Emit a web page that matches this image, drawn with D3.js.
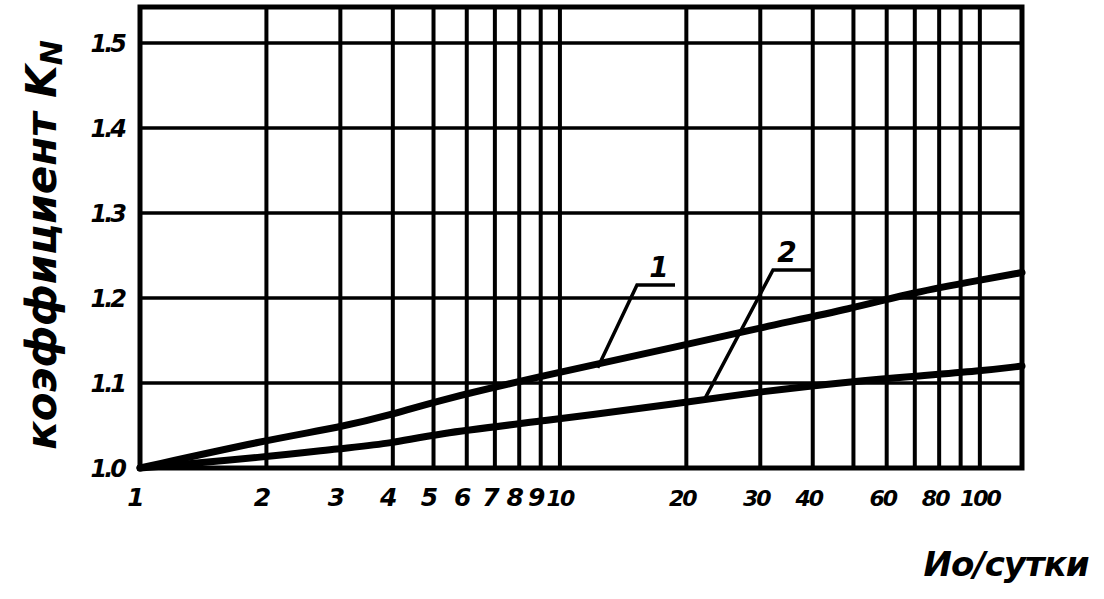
<!DOCTYPE html>
<html>
<head>
<meta charset="utf-8">
<script src="https://cdn.jsdelivr.net/npm/d3@7"></script>
<style>
  body { margin: 0; background: #fff; }
  text { font-family: "DejaVu Sans", sans-serif; font-style: italic; font-weight: bold; fill: #000; }
</style>
</head>
<body>
<svg id="chart" width="1104" height="599"></svg>
<script>
// grid values and labels
var xGrid = [2, 3, 4, 5, 6, 7, 8, 9, 10, 20, 30, 40, 50, 60, 70, 80, 90, 100];
var xLabels = [1, 2, 3, 4, 5, 6, 7, 8, 9, 10, 20, 30, 40, 60, 80, 100];
var yGrid = [1.1, 1.2, 1.3, 1.4, 1.5];
var yLabels = ["1.0", "1.1", "1.2", "1.3", "1.4", "1.5"];

// curves
var xs = [1, 2, 3, 4, 5, 9, 20, 30, 50, 70, 100, 126];
var curve1 = [1.0, 1.033, 1.048, 1.063, 1.078, 1.108, 1.145, 1.165, 1.188, 1.207, 1.221, 1.23];
var curve2 = [1.0, 1.013, 1.023, 1.029, 1.040, 1.055, 1.077, 1.09, 1.102, 1.108, 1.114, 1.12];

// curve labels: [number, x on curve, y on curve]
var marks = [["1", 12.3, 1.118], ["2", 22, 1.079]];

var svg = d3.select("#chart");
var pLeft = 140, pRight = 1022, pTop = 7, pBottom = 468;

var x = d3.scaleLog().domain([1, 126]).range([pLeft, pRight]);
var y = d3.scaleLinear().domain([1.0, 1.5]).range([pBottom, 43]);

// grid
svg.selectAll("line.vg").data(xGrid).enter().append("line")
  .attr("x1", function(d){ return x(d); }).attr("x2", function(d){ return x(d); })
  .attr("y1", pTop).attr("y2", pBottom)
  .attr("stroke", "#000").attr("stroke-width", 4);
svg.selectAll("line.hg").data(yGrid).enter().append("line")
  .attr("x1", pLeft).attr("x2", pRight)
  .attr("y1", function(d){ return y(d); }).attr("y2", function(d){ return y(d); })
  .attr("stroke", "#000").attr("stroke-width", 3.5);

// frame
svg.append("rect")
  .attr("x", pLeft).attr("y", pTop).attr("width", pRight - pLeft).attr("height", pBottom - pTop)
  .attr("fill", "none").attr("stroke", "#000").attr("stroke-width", 5);

// curves
var line = d3.line()
  .x(function(d){ return x(d[0]); })
  .y(function(d){ return y(d[1]); })
  .curve(d3.curveBasis);
[curve1, curve2].forEach(function(c){
  svg.append("path")
    .datum(d3.zip(xs, c))
    .attr("d", line)
    .attr("fill", "none").attr("stroke", "#000").attr("stroke-width", 7)
    .attr("stroke-linecap", "round");
});

// leaders and curve numbers
marks.forEach(function(m, i){
  var px = x(m[1]), py = y(m[2]);
  var kx = i == 0 ? 637 : 773, ky = i == 0 ? 285 : 270;
  svg.append("path")
    .attr("d", "M" + px + "," + py + " L" + kx + "," + ky + " L" + (kx + 38) + "," + ky)
    .attr("fill", "none").attr("stroke", "#000").attr("stroke-width", 3.5);
  svg.append("text")
    .attr("x", kx + (i == 0 ? 22 : 14)).attr("y", ky - 8)
    .attr("text-anchor", "middle").attr("font-size", 28)
    .text(m[0]);
});

// x tick labels
svg.selectAll("text.xl").data(xLabels).enter().append("text")
  .attr("x", function(d){ return x(d) - (d == 10 ? 0 : d == 100 ? 0 : 4); })
  .attr("y", 506)
  .attr("text-anchor", "middle")
  .attr("font-size", function(d){ return d >= 10 ? 22 : 25; })
  .attr("letter-spacing", function(d){ return d >= 10 ? -2 : 0; })
  .text(function(d){ return d; });

// y tick labels
svg.selectAll("text.yl").data(yLabels).enter().append("text")
  .attr("x", 124)
  .attr("y", function(d){ return y(+d) + 9; })
  .attr("text-anchor", "end")
  .attr("font-size", 24)
  .attr("letter-spacing", -3)
  .text(function(d){ return d; });

// axis titles
var yt = svg.append("text")
  .attr("transform", "translate(56,245) rotate(-90)")
  .attr("text-anchor", "middle")
  .attr("font-size", 42)
  .style("font-weight", "bold");
yt.append("tspan").text("коэффициент K");
yt.append("tspan").attr("font-size", 30).attr("dy", 6).text("N");

svg.append("text")
  .attr("x", 1006).attr("y", 576)
  .attr("text-anchor", "middle")
  .attr("font-size", 34)
  .attr("letter-spacing", -1)
  .text("Ио/сутки");
</script>
</body>
</html>
